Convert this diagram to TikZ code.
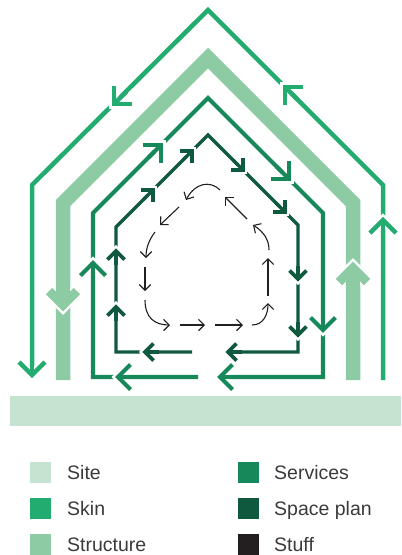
\documentclass[tikz,border=0pt]{standalone}
\usepackage{fontspec}
\setmainfont{Liberation Sans}
\usetikzlibrary{arrows.meta}
\definecolor{sitec}{HTML}{C4E3D0}
\definecolor{skinc}{HTML}{22AC6F}
\definecolor{structc}{HTML}{8DCBA5}
\definecolor{servc}{HTML}{16885A}
\definecolor{spacec}{HTML}{0F5A3F}
\definecolor{stuffc}{HTML}{231F20}
\definecolor{textc}{HTML}{3A3A3A}
% chevron arrowhead with white halo: #1 colour, #2 width, #3 arm size, #4 tip, #5 angle, #6 line width behind
\newcommand\chev[6]{%
  \begin{scope}[shift={(#4)},rotate=#5]
    \draw[white,line width=#2+5,line join=miter,line cap=butt] (-#3,#3)--(0,0)--(-#3,-#3);
    \draw[#1,line width=#6,line cap=butt] (-#3-5,0)--(-1,0);
    \draw[#1,line width=#2,line join=miter,line cap=butt] (-#3,#3)--(0,0)--(-#3,-#3);
  \end{scope}}
\begin{document}
\begin{tikzpicture}[x=1pt,y=-1pt,line cap=butt,line join=miter,
  skinline/.style={draw=skinc,line width=4.5},
  structline/.style={draw=structc,line width=14.5},
  servline/.style={draw=servc,line width=4.2},
  spaceline/.style={draw=spacec,line width=3.4},
  stuffarr/.style={draw=stuffc,line width=1.1,-{Straight Barb[angle=90:8pt]}},
  legsq/.style={minimum width=21pt,minimum height=21pt,inner sep=0pt,anchor=north west},
  legtxt/.style={anchor=base west,inner sep=0pt,text=textc,font=\fontsize{19.5}{23}\selectfont}]
\useasboundingbox (0,0) rectangle (402,555);

% Site
\node[fill=sitec,minimum width=391pt,minimum height=30pt,inner sep=0pt,anchor=north west] (site) at (10,396) {};

% Skin
\draw[skinline] (383,380) -- (383,185) -- (208,10) -- (32,185) -- (32,375);
\chev{skinc}{4.5}{13}{383,220}{90}{4.5}
\chev{skinc}{4.5}{13}{285,87}{135}{4.5}
\chev{skinc}{4.5}{13}{114,104}{225}{4.5}
\chev{skinc}{4.5}{13}{32,375}{270}{4.5}

% Structure
\draw[structline] (353,380) -- (353,203) -- (208,58) -- (63,203) -- (63,380);
\chev{structc}{9}{14}{353,268}{90}{14.5}
\chev{structc}{9}{14}{63,305}{270}{14.5}

% Services
\draw[servline] (198,377) -- (93,377) -- (93,213) -- (208,98) -- (323,213) -- (323,377) -- (220,377);
\chev{servc}{4.2}{12.5}{118,377}{180}{4.2}
\chev{servc}{4.2}{12.5}{93,263}{90}{4.2}
\chev{servc}{4.2}{12.5}{161,145}{45}{4.2}
\chev{servc}{4.2}{12.5}{289,179}{-45}{4.2}
\chev{servc}{4.2}{12.5}{323,330}{270}{4.2}
\chev{servc}{4.2}{12.5}{220,377}{180}{4.2}

% Space plan
\draw[spaceline] (192,352) -- (116,352) -- (116,227) -- (208,135) -- (298,225) -- (298,352) -- (228,352);
\chev{spacec}{3.6}{8.5}{145,352}{180}{3.4}
\chev{spacec}{3.6}{8.5}{116,307}{90}{3.4}
\chev{spacec}{3.6}{8.5}{116,251}{90}{3.4}
\chev{spacec}{3.6}{8.5}{153,190}{45}{3.4}
\chev{spacec}{3.6}{8.5}{192,151}{45}{3.4}
\chev{spacec}{3.6}{8.5}{243,170}{-45}{3.4}
\chev{spacec}{3.6}{8.5}{285,212}{-45}{3.4}
\chev{spacec}{3.6}{8.5}{298,279}{270}{3.4}
\chev{spacec}{3.6}{8.5}{298,335}{270}{3.4}
\chev{spacec}{3.6}{8.5}{228,352}{180}{3.4}

% Stuff
\coordinate (s1a) at (220,190); \coordinate (s1b) at (186,200);
\coordinate (s2a) at (179,207); \coordinate (s2b) at (160,225);
\coordinate (s3a) at (155,232); \coordinate (s3b) at (146,258);
\coordinate (s4a) at (145,267); \coordinate (s4b) at (145,291);
\coordinate (s5a) at (145,300); \coordinate (s5b) at (170,325);
\coordinate (s6a) at (180,325); \coordinate (s6b) at (205,325);
\coordinate (s7a) at (215,325); \coordinate (s7b) at (243,325);
\coordinate (s8a) at (252,325); \coordinate (s8b) at (268,303);
\coordinate (s9a) at (268,296); \coordinate (s9b) at (268,258);
\coordinate (s10a) at (269,250); \coordinate (s10b) at (253,225);
\coordinate (s11a) at (247,219); \coordinate (s11b) at (225,197);
\draw[stuffarr] (s1a) .. controls (210,180) and (195,183) .. (s1b);
\draw[stuffarr] (s2a) -- (s2b);
\draw[stuffarr] (s3a) .. controls (149,240) and (146,248) .. (s3b);
\draw[stuffarr] (s4a) -- (s4b);
\draw[stuffarr] (s5a) .. controls (145,318) and (155,325) .. (s5b);
\draw[stuffarr] (s6a) -- (s6b);
\draw[stuffarr] (s7a) -- (s7b);
\draw[stuffarr] (s8a) .. controls (263,325) and (268,315) .. (s8b);
\draw[stuffarr] (s9a) -- (s9b);
\draw[stuffarr] (s10a) .. controls (269,240) and (264,232) .. (s10b);
\draw[stuffarr] (s11a) -- (s11b);

% Legend
\node[legsq,fill=sitec] (lsite) at (30,462) {};
\node[legsq,fill=skinc] (lskin) at (30,498) {};
\node[legsq,fill=structc] (lstruct) at (30,534) {};
\node[legsq,fill=servc] (lserv) at (238,462) {};
\node[legsq,fill=spacec] (lspace) at (238,498) {};
\node[legsq,fill=stuffc] (lstuff) at (238,534) {};
\node[legtxt] (tsite) at (67,479.5) {Site};
\node[legtxt] (tskin) at (67,515.5) {Skin};
\node[legtxt] (tstruct) at (67,551.5) {Structure};
\node[legtxt] (tserv) at (274,479.5) {Services};
\node[legtxt] (tspace) at (274,515.5) {Space plan};
\node[legtxt] (tstuff) at (274,551.5) {Stuff};
\end{tikzpicture}
\end{document}
